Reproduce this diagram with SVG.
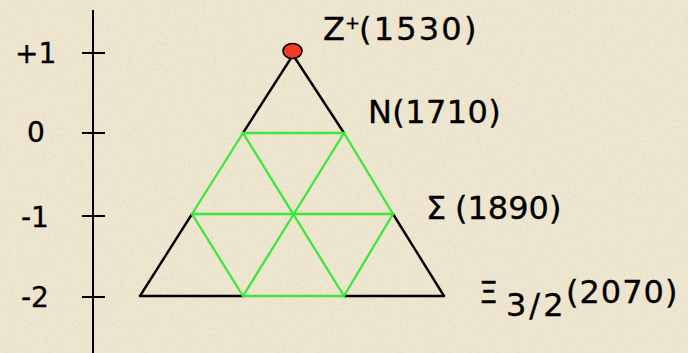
<svg xmlns="http://www.w3.org/2000/svg" width="688" height="353" viewBox="0 0 688 353">
  <defs>
    <filter id="paper" x="0" y="0" width="100%" height="100%">
      <feTurbulence type="fractalNoise" baseFrequency="0.35" numOctaves="2" seed="7" result="n"/>
      <feColorMatrix in="n" type="matrix" values="0 0 0 0 0.62  0 0 0 0 0.56  0 0 0 0 0.44  0 0 0 -2 1.1" result="c"/>
      <feComposite in="c" in2="SourceGraphic" operator="in"/>
    </filter>
    <style>
      .ax { stroke: #000; stroke-width: 2; fill: none; }
      .blk { stroke: #000; stroke-width: 2.4; fill: none; stroke-linecap: round; }
      .grn { stroke: #3ce63a; stroke-width: 2.3; fill: none; stroke-linecap: round; }
      .t { font-family: "DejaVu Sans", "Liberation Sans", sans-serif; fill: #000; stroke: #000; stroke-width: 0.35; }
      .lab { font-size: 32px; }
      .axl { font-size: 28px; }
    </style>
  </defs>
  <rect width="688" height="353" fill="#efe6d0"/>
  <rect width="688" height="353" fill="#efe6d0" filter="url(#paper)" opacity="0.25"/>

  <g id="axis">
    <line class="ax" x1="93" y1="10" x2="93" y2="353"/>
    <line class="ax" x1="82" y1="53" x2="105" y2="53"/>
    <line class="ax" x1="82" y1="133" x2="105" y2="133"/>
    <line class="ax" x1="82" y1="216" x2="105" y2="216"/>
    <line class="ax" x1="82" y1="297" x2="105" y2="297"/>
    <text class="t axl" x="15" y="63">+1</text>
    <text class="t axl" x="27" y="142">0</text>
    <text class="t axl" x="21" y="227">-1</text>
    <text class="t axl" x="21" y="307">-2</text>
  </g>

  <g id="connectors">
    <line class="blk" x1="293" y1="55" x2="243" y2="133"/>
    <line class="blk" x1="293" y1="55" x2="344" y2="133"/>
    <line class="blk" x1="192" y1="214" x2="140" y2="296"/>
    <line class="blk" x1="393" y1="214" x2="444" y2="296"/>
    <line class="blk" x1="140" y1="296" x2="243" y2="296"/>
    <line class="blk" x1="344" y1="296" x2="444" y2="296"/>
    <line class="grn" x1="243" y1="133" x2="344" y2="133"/>
    <line class="grn" x1="192" y1="214" x2="393" y2="214"/>
    <line class="grn" x1="243" y1="296" x2="344" y2="296"/>
    <line class="grn" x1="243" y1="133" x2="192" y2="214"/>
    <line class="grn" x1="192" y1="214" x2="243" y2="296"/>
    <line class="grn" x1="344" y1="133" x2="393" y2="214"/>
    <line class="grn" x1="393" y1="214" x2="344" y2="296"/>
    <line class="grn" x1="243" y1="133" x2="344" y2="296"/>
    <line class="grn" x1="344" y1="133" x2="243" y2="296"/>
  </g>

  <g id="node-z">
    <ellipse cx="292.5" cy="51" rx="9.5" ry="7.5" fill="#f23a24" stroke="#000" stroke-width="1.6"/>
    <text class="t lab" x="323" y="40">Z<tspan x="345" y="29" font-size="18">+</tspan><tspan x="359" y="40" letter-spacing="2.2">(1530)</tspan></text>
  </g>

  <g id="node-n">
    <text class="t lab" x="368" y="123" letter-spacing="0.4">N(1710)</text>
  </g>

  <g id="node-sigma">
    <text class="t lab" x="426" y="219">Σ<tspan x="455">(1890)</tspan></text>
  </g>

  <g id="node-xi">
    <text class="t lab" x="479" y="303"><tspan font-size="30">Ξ</tspan><tspan x="506" y="316" letter-spacing="3">3/2</tspan><tspan x="566" y="303" letter-spacing="1">(2070)</tspan></text>
  </g>
</svg>
